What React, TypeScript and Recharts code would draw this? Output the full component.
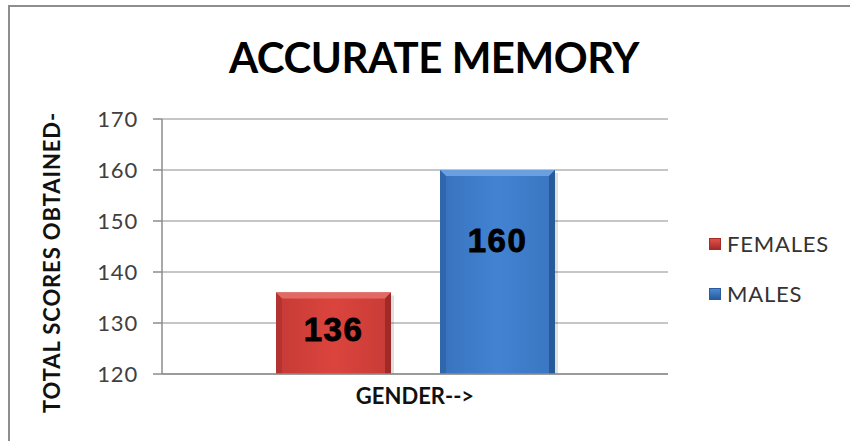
import React from "react";
import { BarChart, Bar, XAxis, YAxis, CartesianGrid, LabelList } from "recharts";

const categories = ["GENDER-->"];
const femalesValues = [136];
const malesValues = [160];
const yTicks = [120, 130, 140, 150, 160, 170];
const seriesNames = ["FEMALES", "MALES"];

const data = categories.map((c, i) => ({ name: c, FEMALES: femalesValues[i], MALES: malesValues[i] }));

const FONT = "Lato, 'Open Sans', sans-serif";

const BevelBar = (props: any) => {
  const { x, y, width, height, gid, top, side } = props;
  if (!height || height <= 0) return null;
  const b = 6;
  return (
    <g>
      <rect x={x + 3} y={y + 3} width={width} height={height - 3} fill="rgba(0,0,0,0.12)" />
      <rect x={x} y={y} width={width} height={height} fill={`url(#${gid})`} />
      <polygon points={`${x},${y} ${x + width},${y} ${x + width - b},${y + b} ${x + b},${y + b}`} fill={top} />
      <polygon points={`${x},${y} ${x + b},${y + b} ${x + b},${y + height} ${x},${y + height}`} fill={side} opacity={0.5} />
      <polygon points={`${x + width},${y} ${x + width - b},${y + b} ${x + width - b},${y + height} ${x + width},${y + height}`} fill={side} />
    </g>
  );
};

const makeLabel = (dy: number) => (props: any) => {
  const { x, y, width, value } = props;
  return (
    <text
      x={x + width / 2}
      y={y + dy}
      textAnchor="middle"
      dominantBaseline="central"
      fontFamily="'Liberation Sans', Arial, sans-serif"
      fontWeight="bold"
      fontSize={33}
      letterSpacing={1.5}
      fill="#000"
      stroke="#000"
      strokeWidth={0.9}
    >
      {value}
    </text>
  );
};

const legendColors = [
  { c1: "#e0504b", c2: "#a52b28" },
  { c1: "#4a8ad6", c2: "#2a5b9c" },
];

const LegendBox = () => (
  <div
    style={{
      position: "absolute",
      left: 709,
      top: 231,
      width: 140,
      fontFamily: FONT,
      fontSize: 22,
      letterSpacing: 0.8,
      color: "#333",
    }}
  >
    {seriesNames.map((name, i) => (
      <div key={name} style={{ display: "flex", alignItems: "center", height: 25, marginBottom: i === 0 ? 25 : 0 }}>
        <span
          style={{
            display: "inline-block",
            width: 12,
            height: 12,
            background: `linear-gradient(${legendColors[i].c1}, ${legendColors[i].c2})`,
            border: `1px solid ${legendColors[i].c2}`,
            marginRight: 6,
            boxSizing: "border-box",
          }}
        />
        <span>{name}</span>
      </div>
    ))}
  </div>
);

export default function App() {
  return (
    <div style={{ position: "absolute", left: 0, top: 0, width: 850, height: 441, background: "#fff" }}>
      <div
        style={{
          position: "absolute",
          left: 8,
          top: 5,
          width: 842,
          height: 436,
          borderTop: "2px solid #8e8e8e",
          borderLeft: "2px solid #8e8e8e",
          boxSizing: "border-box",
        }}
      />
      <div
        style={{
          position: "absolute",
          left: 0,
          top: 32,
          width: 868,
          textAlign: "center",
          fontFamily: FONT,
          fontWeight: 700,
          fontSize: 42,
          color: "#000",
          lineHeight: "50px",
          letterSpacing: -0.5,
        }}
      >
        ACCURATE MEMORY
      </div>
      <div style={{ position: "absolute", left: 0, top: 0 }}>
        <BarChart
          width={850}
          height={441}
          data={data}
          margin={{ top: 119, right: 182, bottom: 37, left: 0 }}
          barSize={115}
          barGap={49}
        >
          <defs>
            <linearGradient id="gF" x1="0" y1="0" x2="1" y2="0">
              <stop offset="0%" stopColor="#c63a36" />
              <stop offset="50%" stopColor="#db443d" />
              <stop offset="100%" stopColor="#c83b37" />
            </linearGradient>
            <linearGradient id="gM" x1="0" y1="0" x2="1" y2="0">
              <stop offset="0%" stopColor="#3872bd" />
              <stop offset="50%" stopColor="#4283d2" />
              <stop offset="100%" stopColor="#3a75c0" />
            </linearGradient>
          </defs>
          <CartesianGrid vertical={false} stroke="#b3b3b3" strokeWidth={1.5} />
          <XAxis
            dataKey="name"
            height={30}
            axisLine={{ stroke: "#8c8c8c", strokeWidth: 1.5 }}
            tickLine={false}
            tick={{ fontFamily: FONT, fontWeight: 700, fontSize: 22, fill: "#111" }}
            tickMargin={8}
          />
          <YAxis
            width={162}
            domain={[120, 170]}
            ticks={yTicks}
            allowDataOverflow
            axisLine={{ stroke: "#8c8c8c", strokeWidth: 1.5 }}
            tickLine={{ stroke: "#8c8c8c", strokeWidth: 1.5 }}
            tickSize={9}
            tickMargin={15}
            tick={{ fontFamily: FONT, fontSize: 22, fill: "#404040", letterSpacing: 0.8 }}
            label={{
              value: "TOTAL SCORES OBTAINED-",
              angle: -90,
              position: "insideLeft",
              offset: 0,
              dx: 52,
              dy: 16,
              style: { fontFamily: FONT, fontWeight: 700, fontSize: 22, letterSpacing: 0.9, fill: "#111", textAnchor: "middle" },
            }}
          />
          <Bar
            dataKey="FEMALES"
            name={seriesNames[0]}
            isAnimationActive={false}
            fill="#d8463f"
            shape={(p: any) => <BevelBar {...p} gid="gF" top="#e26a63" side="#9e2b27" />}
          >
            <LabelList dataKey="FEMALES" content={makeLabel(37)} />
          </Bar>
          <Bar
            dataKey="MALES"
            name={seriesNames[1]}
            isAnimationActive={false}
            fill="#4283d2"
            shape={(p: any) => <BevelBar {...p} gid="gM" top="#6a9fe0" side="#285a9a" />}
          >
            <LabelList dataKey="MALES" content={makeLabel(70)} />
          </Bar>
        </BarChart>
      </div>
      <LegendBox />
    </div>
  );
}
